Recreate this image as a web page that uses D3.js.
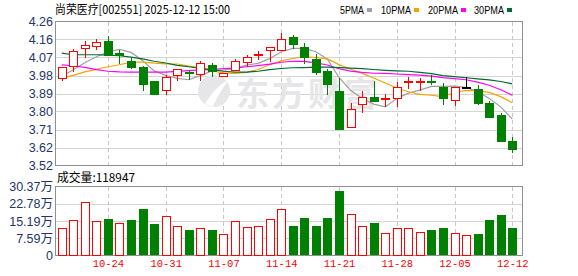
<!DOCTYPE html>
<html><head><meta charset="utf-8">
<script src="https://cdn.jsdelivr.net/npm/d3@7"></script>
<style>body{margin:0;background:#fff;}svg{display:block;}</style>
</head><body><svg id="c" width="578" height="276"></svg>
<script>
const dates = ["10-20","10-21","10-22","10-23","10-24","10-27","10-28","10-29","10-30","10-31","11-03","11-04","11-05","11-06","11-07","11-10","11-11","11-12","11-13","11-14","11-17","11-18","11-19","11-20","11-21","11-24","11-25","11-26","11-27","11-28","12-01","12-02","12-03","12-04","12-05","12-08","12-09","12-10","12-11","12-12"];
const open  = [3.968,4.032,4.121,4.133,4.158,4.098,4.055,4.026,3.955,3.907,3.982,3.995,3.989,4.036,3.980,4.007,4.050,4.085,4.111,4.109,4.178,4.126,4.066,4.005,3.904,3.722,3.836,3.872,3.862,3.867,3.947,3.947,3.951,3.924,3.856,3.920,3.912,3.843,3.782,3.650];
const high  = [4.026,4.116,4.156,4.168,4.180,4.109,4.070,4.028,3.955,3.984,4.016,4.002,4.055,4.046,3.995,4.066,4.088,4.107,4.126,4.199,4.188,4.146,4.092,4.016,3.968,3.841,3.904,3.955,3.888,3.951,3.973,3.971,3.985,3.944,3.925,3.976,3.933,3.853,3.790,3.671];
const low   = [3.956,3.999,4.070,4.109,4.085,4.039,4.016,3.905,3.885,3.883,3.956,3.960,3.956,3.976,3.973,4.007,4.027,4.060,4.050,4.108,4.117,4.039,3.985,3.883,3.702,3.722,3.793,3.852,3.821,3.821,3.914,3.905,3.931,3.834,3.824,3.918,3.834,3.763,3.641,3.590];
const close = [4.024,4.104,4.138,4.154,4.087,4.088,4.027,3.936,3.885,3.973,4.014,3.990,4.043,4.005,3.994,4.055,4.075,4.087,4.126,4.168,4.141,4.075,3.999,3.936,3.711,3.811,3.872,3.853,3.864,3.921,3.949,3.949,3.948,3.865,3.923,3.920,3.844,3.773,3.651,3.610];
const ma5  = [3.977,4.011,4.046,4.077,4.101,4.114,4.099,4.058,4.005,3.982,3.967,3.960,3.981,4.005,4.009,4.017,4.034,4.043,4.067,4.102,4.119,4.119,4.102,4.064,3.972,3.906,3.866,3.836,3.822,3.864,3.892,3.907,3.926,3.926,3.927,3.921,3.900,3.865,3.822,3.760];
const ma10 = [3.967,3.982,4.000,4.013,4.026,4.036,4.049,4.049,4.044,4.041,4.040,4.029,4.020,4.005,3.995,3.992,3.997,4.012,4.036,4.056,4.068,4.077,4.073,4.066,4.037,4.013,3.992,3.969,3.943,3.918,3.899,3.886,3.881,3.874,3.895,3.906,3.904,3.896,3.874,3.843];
const ma20 = [4.036,4.031,4.023,4.011,4.003,4.000,3.999,3.999,3.999,3.999,4.002,4.006,4.010,4.012,4.016,4.019,4.026,4.032,4.039,4.049,4.054,4.053,4.046,4.035,4.016,4.004,3.997,3.993,3.992,3.989,3.986,3.983,3.978,3.971,3.966,3.960,3.948,3.932,3.909,3.881];
const ma30 = [4.095,4.087,4.087,4.087,4.085,4.082,4.075,4.066,4.054,4.045,4.033,4.026,4.018,4.011,4.003,3.999,3.999,4.003,4.011,4.017,4.021,4.022,4.024,4.024,4.022,4.019,4.016,4.012,4.008,4.005,4.003,3.997,3.991,3.981,3.976,3.970,3.964,3.959,3.951,3.939];
const volume = [12.0,15.6,23.4,15.1,16.0,14.5,15.6,20.5,13.8,17.2,13.2,11.1,11.9,11.1,9.6,15.0,12.5,12.8,16.0,20.5,12.9,16.5,12.9,16.5,28.5,18.1,12.8,14.2,9.7,11.9,11.9,10.5,11.1,12.0,9.7,9.2,9.3,15.6,17.8,11.89];
const volUp = [1,1,1,1,0,1,0,0,0,1,1,0,1,0,1,1,1,1,1,1,0,0,0,0,0,1,1,0,1,1,1,1,0,0,1,1,0,0,0,0];
const weekDates = ["10-24","10-31","11-07","11-14","11-21","11-28","12-05","12-12"];
const priceTicks = [3.524,3.6155,3.707,3.7985,3.89,3.9815,4.073,4.1645,4.256];
const volTicks = [0,7.5925,15.185,22.7775,30.37];
const volTickLabels = ["0","7.59万","15.19万","22.78万","30.37万"];
const maNames = ["5PMA","10PMA","20PMA","30PMA"];
const title = "尚荣医疗[002551] 2025-12-12 15:00";
const volTitle = "成交量:118947";

const RED="#ff0000", GREEN="#008000";
const maColors = ["#a0a0a0","#f5a300","#ff00ff","#006b2e"];
const L=55.5, R=522.5, PT=21.5, PB=165.5, VT=186.5, VB=255.5;

const svg = d3.select("#c");
const x = d3.scalePoint().domain(dates).range([61.7, 512.3]);
const y = d3.scaleLinear().domain([3.524, 4.256]).range([PB, PT]);
const yv = d3.scaleLinear().domain([0, 30.37]).range([VB, VT]);
const px = v => Math.round(v) + 0.5;

// gridlines
const g = svg.append("g").attr("shape-rendering","crispEdges");
g.selectAll(".hp").data(priceTicks.slice(1,-1)).join("line")
  .attr("x1",L).attr("x2",R).attr("y1",d=>px(y(d))-0.0).attr("y2",d=>px(y(d)))
  .attr("stroke","#d4d4d4");
g.selectAll(".hv").data(volTicks.slice(1,-1)).join("line")
  .attr("x1",L).attr("x2",R).attr("y1",d=>px(yv(d))).attr("y2",d=>px(yv(d)))
  .attr("stroke","#d4d4d4");
weekDates.forEach(dt=>{
  [[PT,PB],[VT,VB]].forEach(([a,b])=>{
    g.append("line").attr("x1",px(x(dt))).attr("x2",px(x(dt))).attr("y1",a).attr("y2",b)
     .attr("stroke","#c8c8c8").attr("stroke-dasharray","4,3");
  });
});

// watermark
const wm = svg.append("g");
wm.append("circle").attr("cx",214).attr("cy",91).attr("r",16).attr("fill","#e6e6e9");
wm.append("path").attr("d","M205,104 C212,92 220,84 228,80 C222,90 216,98 213,107 Z").attr("fill","#fff");
wm.append("text").attr("x",236).attr("y",106).attr("font-family","Noto Sans CJK SC")
  .attr("font-weight","bold").attr("font-size",33).attr("fill","#e6e6e9").attr("letter-spacing",3).text("东方财富");

// borders
const b = svg.append("g").attr("fill","none").attr("stroke","#8f8f8f").attr("shape-rendering","crispEdges");
b.append("rect").attr("x",L).attr("y",PT).attr("width",R-L).attr("height",PB-PT);
b.append("rect").attr("x",L).attr("y",VT).attr("width",R-L).attr("height",VB-VT);

// MA lines
[ma5,ma10,ma20,ma30].forEach((arr,k)=>{
  svg.append("path").datum(arr)
    .attr("d", d3.line().x((d,i)=>x(dates[i])).y(d=>y(d)))
    .attr("fill","none").attr("stroke",maColors[k]).attr("stroke-width",1.2);
});

// candles
const cg = svg.append("g").attr("shape-rendering","crispEdges");
dates.forEach((dt,i)=>{
  const o=open[i], c=close[i], h=high[i], l=low[i];
  const cx = Math.round(x(dt));
  const col = c>o?RED:(c<o?GREEN:"#000");
  const top = Math.round(y(Math.max(o,c))), bot = Math.round(y(Math.min(o,c)));
  if (c>o) {
    cg.append("line").attr("x1",cx+0.5).attr("x2",cx+0.5).attr("y1",y(h)).attr("y2",top).attr("stroke",col);
    cg.append("line").attr("x1",cx+0.5).attr("x2",cx+0.5).attr("y1",bot).attr("y2",y(l)).attr("stroke",col);
    if (bot-top >= 2) {
      cg.append("rect").attr("x",cx-3.5).attr("y",top+0.5).attr("width",8).attr("height",bot-top)
        .attr("fill","#fff").attr("stroke",col);
    } else {
      cg.append("rect").attr("x",cx-4).attr("y",top-1).attr("width",9).attr("height",2).attr("fill",col);
    }
  } else {
    cg.append("line").attr("x1",cx+0.5).attr("x2",cx+0.5).attr("y1",y(h)).attr("y2",y(l)).attr("stroke",col);
    if (bot-top >= 2) {
      cg.append("rect").attr("x",cx-4).attr("y",top).attr("width",9).attr("height",bot-top+1).attr("fill",col);
    } else {
      cg.append("rect").attr("x",cx-4).attr("y",top-1).attr("width",9).attr("height",2).attr("fill",col);
    }
  }
});

// volume bars
const vg = svg.append("g").attr("shape-rendering","crispEdges");
dates.forEach((dt,i)=>{
  const cx = Math.round(x(dt));
  const t = Math.round(yv(volume[i]));
  if (volUp[i]) {
    vg.append("rect").attr("x",cx-3.5).attr("y",t+0.5).attr("width",8).attr("height",VB-0.5-t-0.5)
      .attr("fill","#fff").attr("stroke",RED);
  } else {
    vg.append("rect").attr("x",cx-4).attr("y",t).attr("width",9).attr("height",VB-0.5-t).attr("fill",GREEN);
  }
});

// axes
const axP = svg.append("g").attr("transform","translate(53,0)")
  .call(d3.axisLeft(y).tickValues(priceTicks).tickFormat(d=>d.toFixed(2)).tickSize(0).tickPadding(0));
const axV = svg.append("g").attr("transform","translate(53,0)")
  .call(d3.axisLeft(yv).tickValues(volTicks).tickFormat((d,i)=>volTickLabels[i]).tickSize(0).tickPadding(0));
[axP,axV].forEach(a=>{
  a.select(".domain").remove();
  a.selectAll("text").attr("font-family","Liberation Sans, Arial, Noto Sans CJK SC").attr("font-size",12.5).attr("fill","#23366a");
});
const axX = svg.append("g").attr("transform","translate(0,260)")
  .call(d3.axisBottom(x).tickValues(weekDates).tickSize(0).tickPadding(0));
axX.select(".domain").remove();
axX.selectAll("text").attr("font-family","Liberation Mono, DejaVu Sans Mono, monospace").attr("font-size",10.5).attr("fill","#ff0000").attr("dy","0.7em");

// title
svg.append("text").attr("x",55).attr("y",14).attr("font-family","Noto Sans CJK SC").attr("font-size",12)
  .attr("textLength",175).attr("lengthAdjust","spacingAndGlyphs").attr("fill","#000").text(title);
svg.append("text").attr("x",57).attr("y",182).attr("font-family","Noto Sans CJK SC").attr("font-size",12)
  .attr("textLength",78).attr("lengthAdjust","spacingAndGlyphs").attr("fill","#000").text(volTitle);

// legend
const legX = [340,381,428,474], legW=[24,30,30,30];
maNames.forEach((n,k)=>{
  svg.append("text").attr("x",legX[k]).attr("y",14).attr("font-family","Liberation Sans, Arial").attr("font-size",10.5)
    .attr("textLength",legW[k]).attr("lengthAdjust","spacingAndGlyphs").attr("fill","#000").text(n);
  svg.append("rect").attr("x",legX[k]+legW[k]+3).attr("y",8).attr("width",5).attr("height",4).attr("fill",maColors[k]);
});
</script></body></html>
